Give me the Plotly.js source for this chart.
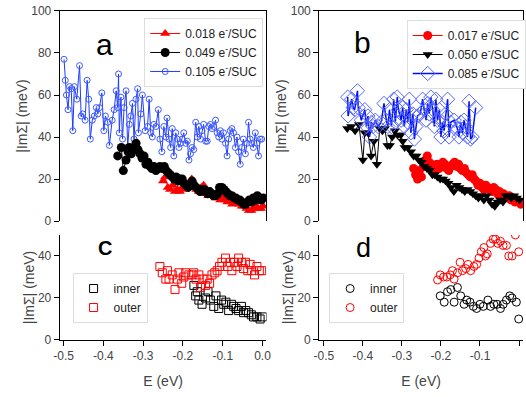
<!DOCTYPE html>
<html><head><meta charset="utf-8">
<script src="https://cdn.plot.ly/plotly-3.0.1.min.js"></script>
<style>html,body{margin:0;padding:0;background:#fff}#chart{width:526px;height:397px}</style>
</head><body><div id="chart"></div>
<script>
// ---- Panel a ----
const aBlueE = [-0.499,-0.496,-0.493,-0.489,-0.485,-0.481,-0.477,-0.473,-0.467,-0.46,-0.456,-0.452,-0.446,-0.441,-0.437,-0.433,-0.428,-0.423,-0.418,-0.414,-0.41,-0.404,-0.399,-0.395,-0.389,-0.385,-0.378,-0.373,-0.368,-0.364,-0.362,-0.36,-0.356,-0.352,-0.348,-0.343,-0.339,-0.335,-0.331,-0.327,-0.323,-0.318,-0.314,-0.312,-0.306,-0.302,-0.295,-0.289,-0.285,-0.281,-0.277,-0.273,-0.268,-0.262,-0.258,-0.253,-0.248,-0.243,-0.24,-0.235,-0.231,-0.227,-0.223,-0.218,-0.214,-0.21,-0.206,-0.202,-0.198,-0.193,-0.189,-0.185,-0.181,-0.177,-0.173,-0.168,-0.164,-0.16,-0.156,-0.152,-0.148,-0.143,-0.139,-0.135,-0.131,-0.127,-0.123,-0.118,-0.114,-0.11,-0.106,-0.102,-0.098,-0.093,-0.089,-0.085,-0.081,-0.077,-0.073,-0.068,-0.064,-0.06,-0.056,-0.052,-0.048,-0.043,-0.039,-0.035,-0.031,-0.027,-0.023,-0.018,-0.014,-0.01,-0.006,-0.002];
const aBlueV = [77,67,60,53,64,63,43,64,58,74,50,51,48,67,58,39,48,50,54,51,54,61,43,50,47,36,48,53,62,54,70,42,59,39,54,62,35,46,50,56,39,58,63,42,51,60,43,45,58,42,40,46,45,53,39,33,45,40,49,39,35,44,31,42,39,35,37,39,42,37,38,29,32,35,34,47,40,45,39,43,46,38,38,45,46,44,45,48,42,40,43,39,42,37,31,39,43,44,42,35,40,33,27,35,39,32,37,47,39,37,35,42,37,31,39,39];
const aBlackE = [-0.364,-0.355,-0.35,-0.343,-0.338,-0.335,-0.33,-0.325,-0.318,-0.313,-0.308,-0.303,-0.298,-0.293,-0.288,-0.283,-0.278,-0.273,-0.268,-0.263,-0.258,-0.252,-0.247,-0.242,-0.237,-0.232,-0.227,-0.222,-0.217,-0.212,-0.207,-0.202,-0.197,-0.192,-0.187,-0.182,-0.177,-0.172,-0.167,-0.162,-0.157,-0.152,-0.147,-0.143,-0.138,-0.133,-0.128,-0.123,-0.118,-0.113,-0.108,-0.102,-0.097,-0.092,-0.087,-0.082,-0.077,-0.072,-0.067,-0.062,-0.057,-0.052,-0.047,-0.043,-0.038,-0.033,-0.028,-0.023,-0.018,-0.013,-0.008,-0.003,0.002];
const aBlackV = [31,35,24,29,33,35,32,34,37,34,32,30,31,27,28,26,25,26,24,25,26,25,26,24,23,22,21,20,21,19,20,20,18,17,16,17,19,17,16,15,14,15,15,14,13,14,13,12,12,13,16,16,15,14,13,12,12,11,11,10,10,9,8,8,9,10,9,11,10,12,11,10,11];
const aRedE = [-0.25,-0.245,-0.238,-0.232,-0.226,-0.22,-0.214,-0.208,-0.202,-0.196,-0.19,-0.184,-0.178,-0.172,-0.166,-0.16,-0.154,-0.148,-0.142,-0.136,-0.13,-0.124,-0.118,-0.112,-0.106,-0.1,-0.094,-0.088,-0.082,-0.076,-0.07,-0.064,-0.058,-0.052,-0.046,-0.04,-0.034,-0.028,-0.022,-0.016,-0.01,-0.004,0.002];
const aRedV = [19,21,16,15,17,14,15,14,16,15,17,18,20,16,15,14,16,17,13,12,14,13,11,12,10,11,10,9,10,8,11,9,8,7,7,6,5,5,6,7,6,6,7];

// ---- Panel b ----
const bBlueE = [-0.439,-0.438,-0.429,-0.425,-0.421,-0.414,-0.412,-0.404,-0.395,-0.391,-0.387,-0.383,-0.378,-0.374,-0.368,-0.361,-0.353,-0.346,-0.340,-0.336,-0.332,-0.327,-0.321,-0.317,-0.312,-0.309,-0.302,-0.298,-0.294,-0.289,-0.285,-0.281,-0.277,-0.272,-0.268,-0.264,-0.260,-0.253,-0.247,-0.243,-0.238,-0.234,-0.230,-0.226,-0.221,-0.217,-0.213,-0.209,-0.204,-0.200,-0.196,-0.192,-0.188,-0.183,-0.179,-0.175,-0.166,-0.158,-0.154,-0.149,-0.145,-0.141,-0.137,-0.132,-0.128,-0.124,-0.120,-0.111];
const bBlueV = [59,50,58,54,53,62,54,48,53,45,50,40,47,45,48,45,47,56,48,45,53,45,58,47,59,53,48,54,45,53,47,58,42,51,39,45,50,51,58,53,48,56,51,59,53,45,58,48,53,40,47,43,51,58,40,47,48,44,40,47,42,48,45,40,57,39,40,54];
const bBlackE = [-0.44,-0.43,-0.42,-0.41,-0.40,-0.395,-0.387,-0.379,-0.372,-0.364,-0.357,-0.35,-0.344,-0.337,-0.331,-0.325,-0.318,-0.311,-0.303,-0.298,-0.293,-0.285,-0.277,-0.27,-0.263,-0.257,-0.25,-0.243,-0.236,-0.229,-0.222,-0.216,-0.209,-0.202,-0.195,-0.188,-0.181,-0.174,-0.167,-0.16,-0.153,-0.146,-0.139,-0.132,-0.125,-0.118,-0.111,-0.104,-0.097,-0.09,-0.083,-0.076,-0.069,-0.062,-0.055,-0.048,-0.041,-0.034,-0.027,-0.02,-0.013,-0.006,0.001];
const bBlackV = [44,45,43,46,29,42,42,31,38,27,44,43,44,36,36,40,43,41,41,38,35,35,33,31,31,29,28,26,25,24,22,22,21,20,20,19,18,16,14,17,16,15,14,15,14,13,12,11,12,10,12,10,8,7,9,10,9,12,12,11,12,11,10];
const bRedE = [-0.27,-0.265,-0.26,-0.255,-0.25,-0.245,-0.24,-0.235,-0.23,-0.225,-0.22,-0.215,-0.21,-0.205,-0.2,-0.195,-0.19,-0.185,-0.18,-0.175,-0.17,-0.165,-0.16,-0.155,-0.15,-0.145,-0.14,-0.135,-0.13,-0.125,-0.12,-0.115,-0.11,-0.105,-0.1,-0.095,-0.09,-0.085,-0.08,-0.075,-0.07,-0.065,-0.06,-0.055,-0.05,-0.045,-0.04,-0.035,-0.03,-0.025,-0.02,-0.015,-0.01,-0.005,0.0,0.005];
const bRedV = [25,22,20,24,21,26,29,31,28,27,26,24,27,25,26,28,27,25,24,26,27,28,26,27,25,24,25,23,22,21,22,20,19,17,18,16,15,17,16,15,14,16,15,13,14,12,13,12,11,12,10,11,9,10,9,8];

// ---- Panel c ----
const cOuterE = [-0.258,-0.252,-0.243,-0.239,-0.235,-0.227,-0.22,-0.214,-0.21,-0.203,-0.198,-0.193,-0.185,-0.177,-0.173,-0.167,-0.16,-0.156,-0.15,-0.143,-0.139,-0.133,-0.127,-0.12,-0.114,-0.108,-0.102,-0.093,-0.087,-0.081,-0.077,-0.07,-0.064,-0.06,-0.053,-0.048,-0.043,-0.037,-0.031,-0.027,-0.02,-0.014,-0.008,-0.002];
const cOuterV = [35,32,29,33,29,31,24,29,32,27,30,32,31,31,32,29,31,25,29,26,29,27,31,32,33,35,37,39,35,37,33,37,35,39,37,34,37,33,36,33,31,35,33,33];
const cInnerE = [-0.1725,-0.168,-0.164,-0.16,-0.152,-0.143,-0.137,-0.131,-0.1225,-0.117,-0.11,-0.103,-0.0975,-0.092,-0.085,-0.078,-0.0725,-0.0667,-0.06,-0.053,-0.0475,-0.042,-0.035,-0.028,-0.0225,-0.014,-0.006,0.0];
const cInnerV = [26,21,23,19,17,20,23,19,16,21,15,19,17,18,14,17,16,15,14,16,13,14,13,12,11,11,10,11];

// ---- Panel d ----
const dOuterE = [-0.2087,-0.2019,-0.1934,-0.1849,-0.1764,-0.1705,-0.1662,-0.1578,-0.151,-0.145,-0.1366,-0.1306,-0.1238,-0.1154,-0.1086,-0.1026,-0.0967,-0.0899,-0.0857,-0.0814,-0.073,-0.0662,-0.0602,-0.0543,-0.0475,-0.0407,-0.0322,-0.0263,-0.0178,-0.0093,-0.0008];
const dOuterV = [28.6,31,30,30,31,33,29,32,37,33,34,36,33,35,36,39,42,44,40,41,46,48,48,46,47,45,45,40,40,50,42];
const dInnerE = [-0.2019,-0.1917,-0.1832,-0.1747,-0.1663,-0.1578,-0.1493,-0.1408,-0.134,-0.1255,-0.117,-0.1086,-0.1001,-0.0916,-0.0797,-0.073,-0.0645,-0.056,-0.0475,-0.0407,-0.0322,-0.0237,-0.0178,-0.0068,-0.0008];
const dInnerV = [21,18,23,24,18,25,21,17,19,18,16,15,17,16,19,16,17,17,15,17,19,21,20,18,10];

// ---- labels ----
const legendA = ['0.018 e<sup>-</sup>/SUC','0.049 e<sup>-</sup>/SUC','0.105 e<sup>-</sup>/SUC'];
const legendB = ['0.017 e<sup>-</sup>/SUC','0.050 e<sup>-</sup>/SUC','0.085 e<sup>-</sup>/SUC'];
const legendCD = ['inner','outer'];
const xTickVals = [-0.5,-0.4,-0.3,-0.2,-0.1,0.0];
const xTickText = ['-0.5','-0.4','-0.3','-0.2','-0.1','0.0'];
const yTopTicks = [0,20,40,60,80,100];
const yBotTicks = [0,20,40];
const yTitle = '|ImΣ| (meV)';
const xTitle = 'E (eV)';
const panelLetters = ['a','b','C','d'];

const FONT = 'Arial, "Liberation Sans", sans-serif';
const BLUE = '#1f3cff';

const traces = [
  {x:aBlueE, y:aBlueV, xaxis:'x', yaxis:'y', mode:'lines+markers', name:legendA[2], legend:'legend', legendrank:3,
   line:{color:BLUE, width:1}, marker:{symbol:'circle-open', size:6, color:'#3f5bff', line:{width:1}}},
  {x:aRedE, y:aRedV, xaxis:'x', yaxis:'y', mode:'lines+markers', name:legendA[0], legend:'legend', legendrank:1,
   line:{color:'#ff0000', width:1}, marker:{symbol:'triangle-up', size:9, color:'#ff0000'}},
  {x:aBlackE, y:aBlackV, xaxis:'x', yaxis:'y', mode:'lines+markers', name:legendA[1], legend:'legend', legendrank:2,
   line:{color:'#000', width:1}, marker:{symbol:'circle', size:9, color:'#000'}},

  {x:bRedE, y:bRedV, xaxis:'x2', yaxis:'y2', mode:'lines+markers', name:legendB[0], legend:'legend2',
   line:{color:'#ff0000', width:1}, marker:{symbol:'circle', size:9, color:'#ff0000'}},
  {x:bBlackE, y:bBlackV, xaxis:'x2', yaxis:'y2', mode:'lines+markers', name:legendB[1], legend:'legend2',
   line:{color:'#000', width:1}, marker:{symbol:'triangle-down', size:9, color:'#000'}},
  {x:bBlueE, y:bBlueV, xaxis:'x2', yaxis:'y2', mode:'lines+markers', name:legendB[2], legend:'legend2',
   line:{color:'#0010ee', width:1.5}, marker:{symbol:'diamond-open', size:11, color:'#5566ff', line:{width:1}}},

  {x:cInnerE, y:cInnerV, xaxis:'x3', yaxis:'y3', mode:'markers', name:legendCD[0], legend:'legend3',
   marker:{symbol:'square-open', size:8, color:'#000', line:{width:1}}},
  {x:cOuterE, y:cOuterV, xaxis:'x3', yaxis:'y3', mode:'markers', name:legendCD[1], legend:'legend3',
   marker:{symbol:'square-open', size:8, color:'#ff0000', line:{width:1}}},

  {x:dInnerE, y:dInnerV, xaxis:'x4', yaxis:'y4', mode:'markers', name:legendCD[0], legend:'legend4',
   marker:{symbol:'circle-open', size:8, color:'#000', line:{width:1}}},
  {x:dOuterE, y:dOuterV, xaxis:'x4', yaxis:'y4', mode:'markers', name:legendCD[1], legend:'legend4',
   marker:{symbol:'circle-open', size:8, color:'#ff0000', line:{width:1}}}
];

const tickFont = {family:FONT, size:12, color:'#444'};
const titleFont = {family:FONT, size:14, color:'#444'};
const LEFT = [0.1141, 0.5095], RIGHT = [0.6103, 1.0];
const TOP = [0.4433, 0.9723], BOT = [0.1436, 0.4081];
const rangeL = [-0.51, 0.01], rangeR = [-0.512, 0.0102];

function xTop(dom, rng, anchor){
  return {domain:dom, range:rng, anchor:anchor, side:'top', showline:true, linecolor:'#000', linewidth:1,
    ticks:'', showticklabels:false, showgrid:false, zeroline:false};
}
function xBot(dom, rng, anchor){
  return {domain:dom, range:rng, anchor:anchor, showline:true, linecolor:'#000', linewidth:1,
    ticks:'outside', ticklen:5, tickcolor:'#000', tickvals:xTickVals, ticktext:xTickText,
    tickfont:tickFont, showgrid:false, zeroline:false,
    title:{text:xTitle, font:titleFont, standoff:13}};
}
function yAx(dom, rng, anchor, ticks, mirror){
  return {domain:dom, range:rng, anchor:anchor, showline:true, mirror:mirror, linecolor:'#000', linewidth:1,
    ticks:'outside', ticklen:5, tickcolor:'#000', tickvals:ticks, tickfont:tickFont,
    showgrid:false, zeroline:false, title:{text:yTitle, font:titleFont, standoff:0}};
}
function leg(x, y, fs){
  return {x:x, y:y, xanchor:'left', yanchor:'top', bgcolor:'#fff', bordercolor:'#ddd', borderwidth:1,
    font:{family:FONT, size:fs, color:'#222'}, itemwidth:30, tracegroupgap:0};
}

const layout = {
  width:526, height:397, margin:{l:0, r:0, t:0, b:0, pad:0},
  paper_bgcolor:'#fff', plot_bgcolor:'#fff', showlegend:true,
  font:{family:FONT},
  xaxis: xTop(LEFT, rangeL, 'y'),
  yaxis: yAx(TOP, [0,100], 'x', yTopTicks, true),
  xaxis2: xTop(RIGHT, rangeR, 'y2'),
  yaxis2: yAx(TOP, [0,100], 'x2', yTopTicks, true),
  xaxis3: xBot(LEFT, rangeL, 'y3'),
  yaxis3: yAx(BOT, [0,50], 'x3', yBotTicks, false),
  xaxis4: xBot(RIGHT, rangeR, 'y4'),
  yaxis4: yAx(BOT, [0,50], 'x4', yBotTicks, false),
  legend: leg(0.2757, 0.9547, 12),
  legend2: leg(0.7776, 0.9496, 12),
  legend3: leg(0.1388, 0.3123, 12),
  legend4: leg(0.6293, 0.3123, 12),
  annotations: [
    {text:panelLetters[0], x:0.1996, y:0.889, xref:'paper', yref:'paper', xanchor:'center', yanchor:'middle', showarrow:false, font:{family:FONT, size:30, color:'#000'}},
    {text:panelLetters[1], x:0.6939, y:0.8917, xref:'paper', yref:'paper', xanchor:'center', yanchor:'middle', showarrow:false, font:{family:FONT, size:30, color:'#000'}},
    {text:'<b>'+panelLetters[2]+'</b>', x:0.2015, y:0.3753, xref:'paper', yref:'paper', xanchor:'center', yanchor:'middle', showarrow:false, font:{family:FONT, size:20, color:'#000'}},
    {text:panelLetters[3], x:0.6958, y:0.3753, xref:'paper', yref:'paper', xanchor:'center', yanchor:'middle', showarrow:false, font:{family:FONT, size:27, color:'#000'}}
  ]
};

Plotly.newPlot('chart', traces, layout, {staticPlot:true, displayModeBar:false});
</script></body></html>
